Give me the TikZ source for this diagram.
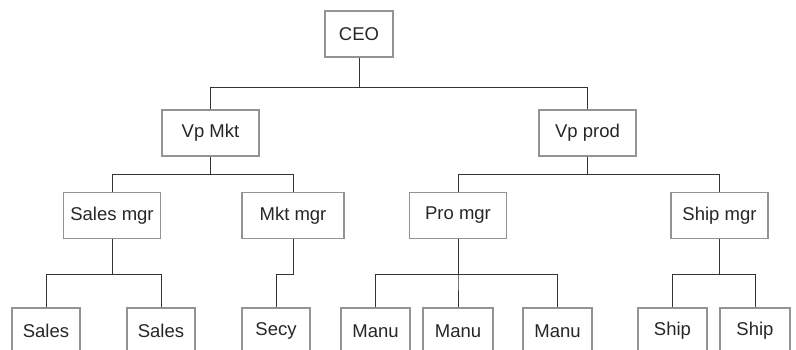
\documentclass[tikz,border=0pt]{standalone}
\usepackage{fontspec}
\setmainfont{Liberation Sans}
\usetikzlibrary{positioning}
\tikzset{box/.style = {draw=gray!85, line width=1.2pt, inner sep=0,
                       minimum height=46, font=\fontsize{18.5}{20}\selectfont,
                       text=black!85}}
\tikzset{wide/.style = {box, minimum width=97}}
\tikzset{narrow/.style = {box, minimum width=68}}
\tikzset{link/.style = {draw=black!80, line width=0.9pt}}

\begin{document}
\begin{tikzpicture}[x=1pt, y=-1pt]
  \clip (0,0) rectangle (796,350);
  % top
  \node[narrow] (ceo) at (359,34) {CEO};
  % vice presidents
  \node[wide] (vpmkt) at (210.5,133) {Vp Mkt};
  \node[wide] (vpprod) at (587.5,133) {Vp prod};
  % managers
  \node[wide] (salesmgr) at (112,215.5) {Sales mgr};
  \node[wide, minimum width=102] (mktmgr) at (293,215.5) {Mkt mgr};
  \node[wide] (promgr) at (458,215.5) {Pro mgr};
  \node[wide] (shipmgr) at (719.5,215.5) {Ship mgr};
  % staff (cut off at the bottom)
  \node[narrow] (salesA) at (46,331) {Sales};
  \node[narrow] (salesB) at (161,331) {Sales};
  \node[narrow] (secy) at (276,331) {Secy};
  \node[narrow, minimum width=69] (manuA) at (375.5,331) {Manu};
  \node[narrow, minimum width=70] (manuB) at (458,331) {Manu};
  \node[narrow, minimum width=69] (manuC) at (557.5,331) {Manu};
  \node[narrow, minimum width=69] (shipA) at (672.5,331) {Ship};
  \node[narrow, minimum width=70] (shipB) at (755,331) {Ship};

  % connectors
  \foreach \c in {vpmkt,vpprod}
    \draw[link] (ceo.south) -- ++(0,30) -| (\c.north);
  \foreach \c in {salesmgr,mktmgr}
    \draw[link] (vpmkt.south) -- ++(0,18) -| (\c.north);
  \foreach \c in {promgr,shipmgr}
    \draw[link] (vpprod.south) -- ++(0,18) -| (\c.north);
  \foreach \c in {salesA,salesB}
    \draw[link] (salesmgr.south) -- ++(0,35) -| (\c.north);
  \draw[link] (mktmgr.south) -- ++(0,35) -| (secy.north);
  \foreach \c in {manuA,manuB,manuC}
    \draw[link] (promgr.south) -- ++(0,35) -| (\c.north);
  \foreach \c in {shipA,shipB}
    \draw[link] (shipmgr.south) -- ++(0,35) -| (\c.north);
\end{tikzpicture}
\end{document}
